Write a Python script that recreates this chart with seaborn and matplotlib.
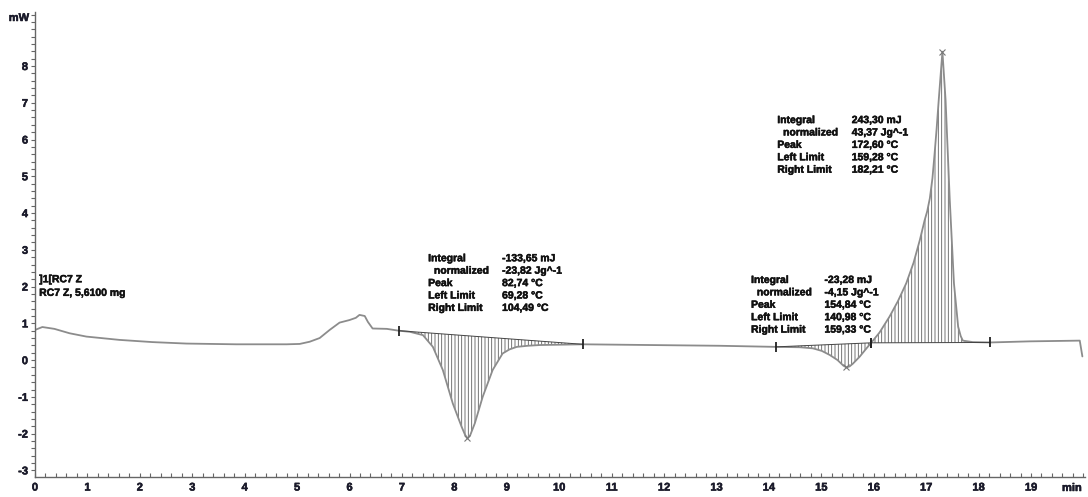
import numpy as np
import pandas as pd
import matplotlib
matplotlib.use("Agg")
import matplotlib.pyplot as plt
from matplotlib.ticker import MultipleLocator
import matplotlib.patheffects as pe
import seaborn as sns

# DSC curve: time [min] vs heat flow [mW]
time_min = [0.00, 0.14, 0.37, 0.66, 0.98, 1.61, 2.24, 2.89, 3.84, 4.80,
            5.05, 5.24, 5.43, 5.62, 5.81, 6.00, 6.12, 6.19, 6.29, 6.35,
            6.44, 6.71, 6.94, 7.15, 7.40, 7.59, 7.78, 7.97, 8.14, 8.20,
            8.25, 8.30, 8.39, 8.54, 8.73, 8.92, 9.05, 9.19, 9.40, 9.63,
            10.45, 11.73, 13.06, 14.13, 14.59, 14.84, 15.01, 15.16, 15.31, 15.42,
            15.48, 15.54, 15.60, 15.73, 15.85, 15.95, 16.11, 16.30, 16.46, 16.62,
            16.76, 16.88, 16.97, 17.02, 17.07, 17.12, 17.16, 17.20, 17.24, 17.31,
            17.37, 17.45, 17.53, 17.61, 17.66, 17.70, 17.89, 18.22, 18.97, 19.93,
            19.98]
heat_flow = [0.82, 0.90, 0.85, 0.73, 0.64, 0.55, 0.49, 0.45, 0.43, 0.43,
             0.44, 0.50, 0.60, 0.82, 1.02, 1.09, 1.15, 1.23, 1.20, 1.04,
             0.86, 0.85, 0.80, 0.77, 0.68, 0.36, -0.27, -1.18, -1.82, -2.02,
             -2.13, -2.05, -1.72, -1.00, -0.27, 0.18, 0.29, 0.36, 0.39, 0.41,
             0.43, 0.41, 0.39, 0.36, 0.35, 0.32, 0.25, 0.14, 0.00, -0.15,
             -0.20, -0.17, -0.10, 0.09, 0.30, 0.47, 0.75, 1.18, 1.60, 2.09,
             2.65, 3.27, 3.80, 4.05, 4.40, 4.95, 5.60, 6.30, 7.08, 8.39,
             7.08, 4.36, 2.09, 0.91, 0.65, 0.53, 0.49, 0.48, 0.51, 0.53,
             0.10]

# integration limits (min) and baseline levels (mW)
left_limits = [6.94, 14.13, 15.95]
right_limits = [10.45, 15.95, 18.22]
left_levels = [0.80, 0.36, 0.47]
right_levels = [0.43, 0.47, 0.48]
peak_times = [8.25, 15.48, 17.31]
peak_values = [-2.13, -0.20, 8.39]

row_names = ["Integral", "  normalized", "Peak", "Left Limit", "Right Limit"]
results = [
    ["-133,65 mJ", "-23,82 Jg^-1", "82,74 °C", "69,28 °C", "104,49 °C"],
    ["-23,28 mJ", "-4,15 Jg^-1", "154,84 °C", "140,98 °C", "159,33 °C"],
    ["243,30 mJ", "43,37 Jg^-1", "172,60 °C", "159,28 °C", "182,21 °C"],
]
# where each result block sits (label x, value x, first row y) in data units
block_pos = [(7.50, 8.91, 2.77), (13.66, 15.06, 2.18), (14.16, 15.58, 6.53)]

sample_lines = ["]1[RC7 Z", "RC7 Z, 5,6100 mg"]

df = pd.DataFrame({"t": time_min, "mw": heat_flow})

sns.set_style("ticks")
plt.rcParams["font.family"] = ["Liberation Sans", "DejaVu Sans"]
plt.rcParams["font.weight"] = "bold"
plt.rcParams["axes.unicode_minus"] = False
plt.rcParams["hatch.linewidth"] = 0.6

# slightly heavier strokes, like the instrument's screen font
heavy = [pe.withStroke(linewidth=0.35, foreground="#111111")]

fig = plt.figure(figsize=(10.88, 4.97), dpi=100)
ax = fig.add_axes([35 / 1088, 20 / 497, 1050 / 1088, 465 / 497])

sns.lineplot(data=df, x="t", y="mw", ax=ax, color="#8c8c8c", linewidth=1.3,
             sort=False, estimator=None)

# hatched integration areas + baselines
t = np.array(time_min)
v = np.array(heat_flow)
for l, r, vl, vr in zip(left_limits, right_limits, left_levels, right_levels):
    m = (t >= l - 1e-9) & (t <= r + 1e-9)
    base = np.interp(t[m], [l, r], [vl, vr])
    ax.fill_between(t[m], base, v[m], facecolor="none", edgecolor="#5e5e5e",
                    hatch="|||||", linewidth=0)
    ax.plot([l, r], [vl, vr], color="#444444", linewidth=0.7)
    ax.plot([l, r], [vl, vr], linestyle="none", marker="|", markersize=7,
            markeredgewidth=1.3, color="#222222")

ax.plot(peak_times, peak_values, linestyle="none", marker="x", markersize=4,
        markeredgewidth=0.8, color="#777777")

# result text blocks
dy = 12.4 / 36.76
for (lx, vx, y0), vals in zip(block_pos, results):
    for i, (name, val) in enumerate(zip(row_names, vals)):
        ax.text(lx, y0 - i * dy, name, fontsize=7.5, fontweight="bold",
                color="#111111", ha="left", va="center", path_effects=heavy)
        ax.text(vx, y0 - i * dy, val, fontsize=7.5, fontweight="bold",
                color="#111111", ha="left", va="center", path_effects=heavy)

for i, s in enumerate(sample_lines):
    ax.text(0.08, 2.20 - i * 0.37, s, fontsize=7.5, fontweight="bold",
            color="#111111", ha="left", va="center", path_effects=heavy)

ax.set_xlim(0, 20.03)
ax.set_ylim(-3.18, 9.47)
ax.xaxis.set_major_locator(MultipleLocator(1))
ax.xaxis.set_minor_locator(MultipleLocator(0.2))
ax.yaxis.set_major_locator(MultipleLocator(1))
ax.yaxis.set_minor_locator(MultipleLocator(0.2))
ax.set_yticks(range(-3, 9))
ax.set_xticks(range(0, 20))
ax.set_xlabel("")
ax.set_ylabel("")

ax.tick_params(axis="x", which="both", direction="in", length=3, width=0.8,
               color="#666666", pad=4, labelsize=8)
ax.tick_params(axis="y", which="both", direction="out", length=3, width=0.8,
               color="#666666", pad=2, labelsize=8)
for lab in ax.get_xticklabels() + ax.get_yticklabels():
    lab.set_fontweight("bold")
    lab.set_color("#1a1a2e")
    lab.set_path_effects(heavy)

for side in ["top", "right"]:
    ax.spines[side].set_visible(False)
for side in ["left", "bottom"]:
    ax.spines[side].set_color("#666666")
    ax.spines[side].set_linewidth(1.0)

fig.text(19 / 1088, 1 - 18 / 497, "mW", fontsize=8, fontweight="bold",
         color="#1a1a2e", ha="center", va="center", path_effects=heavy)
fig.text(1072 / 1088, 1 - 488 / 497, "min", fontsize=8, fontweight="bold",
         color="#1a1a2e", ha="center", va="center", path_effects=heavy)

fig.savefig("out.png", dpi=100)
